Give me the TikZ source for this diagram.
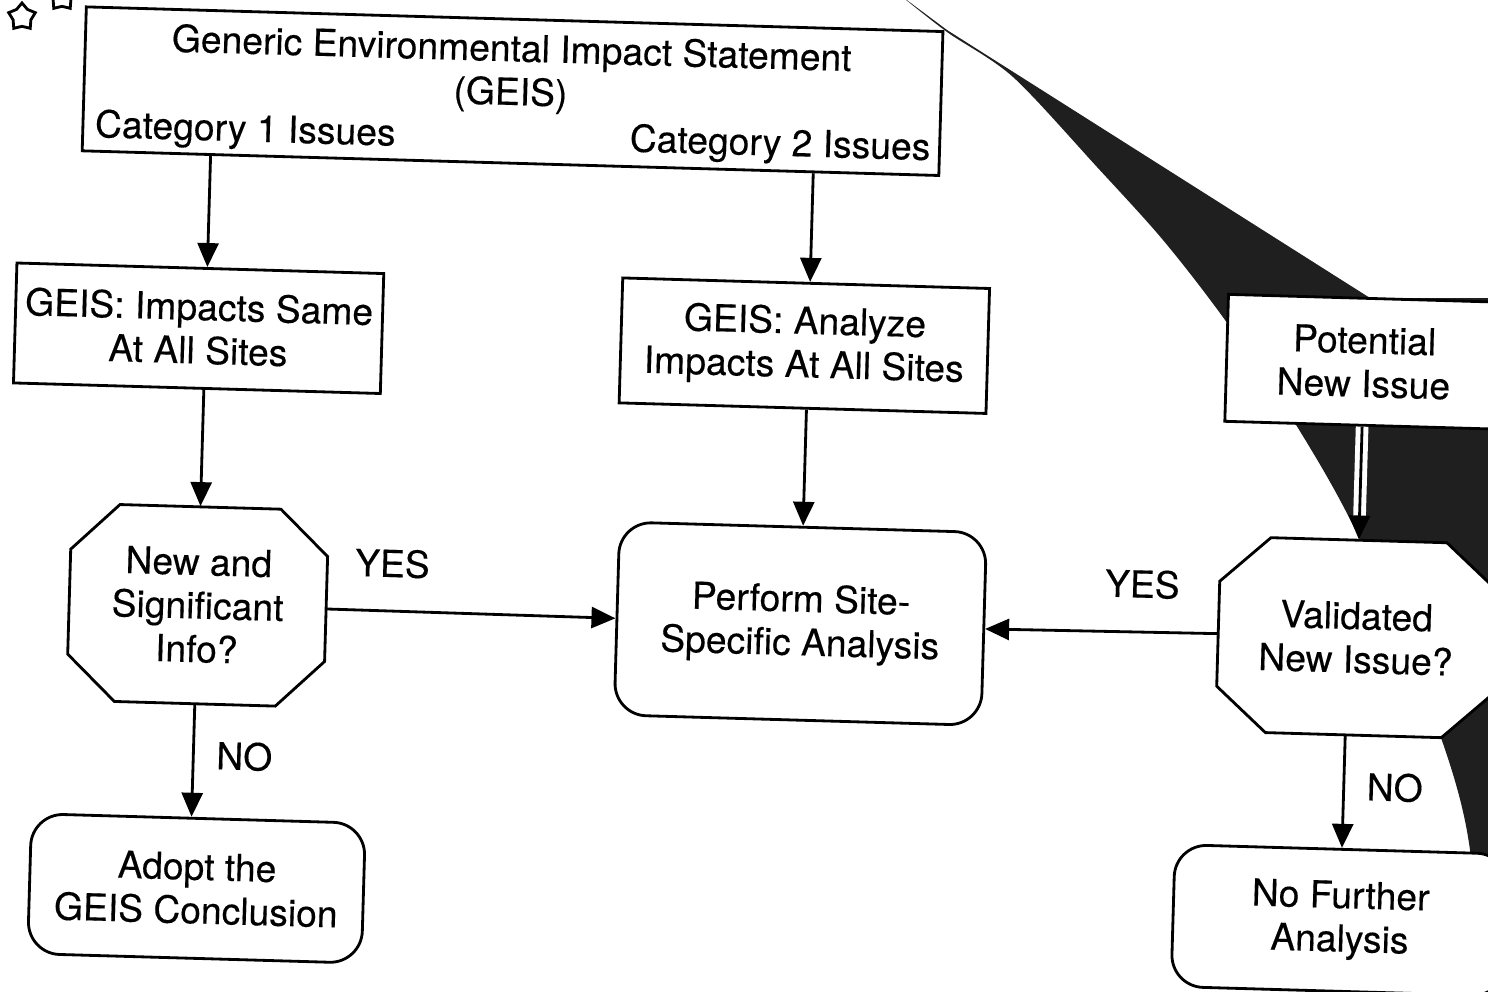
\documentclass[tikz,border=0pt]{standalone}
\usepackage{fontspec}
\setmainfont{TeX Gyre Heros}[FakeBold=0.3]
\usetikzlibrary{arrows.meta,shapes.geometric,positioning,calc}
\newcommand{\chartfont}{\fontsize{10.6}{12.4}\selectfont}
% octagon outline: centre x, centre y, width, height, cut x, cut y
\newcommand{\octagon}[6]{\draw[line width=0.8pt, fill=white]
    ({#1-#3/2+#5},{#2-#4/2}) -- ({#1+#3/2-#5},{#2-#4/2}) -- ({#1+#3/2},{#2-#4/2+#6}) -- ({#1+#3/2},{#2+#4/2-#6})
    -- ({#1+#3/2-#5},{#2+#4/2}) -- ({#1-#3/2+#5},{#2+#4/2}) -- ({#1-#3/2},{#2+#4/2-#6}) -- ({#1-#3/2},{#2-#4/2+#6}) -- cycle;}
\tikzset{
    box/.style={draw, line width=0.8pt, fill=white, inner sep=0pt, align=center},
    decision/.style={inner sep=0pt, align=center},
    roundbox/.style={box, rounded corners=3.2mm},
    arr/.style={line width=0.8pt, -{Triangle[length=2.4mm,width=2.1mm]}},
    starmark/.style={star, star points=5, draw, line width=0.8pt, minimum size=2.8mm, inner sep=0pt},
}

\begin{document}
\begin{tikzpicture}[x=0.1mm, y=-0.1mm, font=\chartfont]
    \useasboundingbox (0,0) rectangle (1488,992);

    % dark swoosh behind the right column
    \fill[black!88] (900,-5) -- (947,30) -- (1370,298) -- (1500,298) -- (1500,1000) -- (1476,1000)
        -- plot[smooth] coordinates {(1476,1000) (1470,850) (1440,735) (1360,540) (1298,428) (1225,320) (1163,240) (1097,167) (1013,77) (947,32) (900,-5)} -- cycle;

    \node[starmark] (star1) at (22,17) {};
    \node[starmark] (star2) at (62,-3) {};

    \begin{scope}[rotate around={-1.65:(744,496)}, transform shape]
        \node[box, minimum width=85.7mm, minimum height=14.4mm] (geis) at (501,98) {};
        \node[align=center] (title) at (499,80) {Generic Environmental Impact Statement\\(GEIS)};
        \node (cat1) at (235,146) {Category 1 Issues};
        \node (cat2) at (770,145) {Category 2 Issues};

        \node[box, minimum width=36.7mm, minimum height=12mm] (same) at (194,344) {GEIS: Impacts Same\\At All Sites};
        \node[box, minimum width=36.7mm, minimum height=12.5mm] (analyze) at (800,344) {GEIS: Analyze\\Impacts At All Sites};
        \node[box, minimum width=27.5mm, minimum height=12.7mm] (potential) at (1360,344) {Potential\\New Issue};

        \octagon{201}{621}{257}{197}{48}{46}
        \node[decision, minimum width=25.7mm, minimum height=19.7mm] (newinfo) at (201,621) {New and\\Significant\\Info?};
        \node[roundbox, minimum width=36.7mm, minimum height=19.3mm] (perform) at (804,622) {Perform Site-\\Specific Analysis};
        \octagon{1360}{620}{276}{195}{50}{45}
        \node[decision, minimum width=27.6mm, minimum height=19.5mm] (validated) at (1360,620) {Validated\\New Issue?};

        \node[roundbox, minimum width=33.4mm, minimum height=14mm] (adopt) at (208,904) {Adopt the\\GEIS Conclusion};
        \node[roundbox, minimum width=33.4mm, minimum height=14.2mm] (nofurther) at (1352,903) {No Further\\Analysis};

        \draw[arr] (geis.south -| newinfo.north) -- (same.north -| newinfo.north);
        \draw[arr] (same.south -| newinfo.north) -- (newinfo.north);
        \draw[arr] (newinfo.south) -- (newinfo.south |- adopt.north) node[pos=0.45, right=1mm] {NO};
        \draw[arr] (newinfo.east) -- (perform.west) node[pos=0, anchor=south west, xshift=1.4mm, yshift=2mm] {YES};

        \draw[arr] (geis.south -| perform.north) -- (analyze.north -| perform.north);
        \draw[arr] (analyze.south -| perform.north) -- (perform.north);

        \draw[white, line width=3.6pt] (potential.south) -- ([yshift=2.2mm]validated.north);
        \draw[arr] (potential.south) -- (validated.north);
        \draw[arr] (validated.west) -- (perform.east) node[pos=0, anchor=south east, xshift=-2.6mm, yshift=2mm] {YES};
        \draw[arr] (validated.south -| nofurther.north) -- (nofurther.north) node[pos=0.45, right=1mm] {NO};
    \end{scope}
\end{tikzpicture}
\end{document}
